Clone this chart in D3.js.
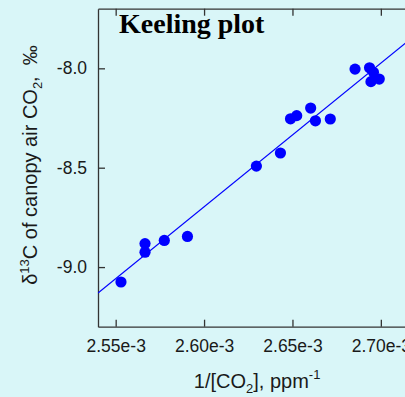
<!DOCTYPE html>
<html>
<head>
<meta charset="utf-8">
<script src="https://cdn.jsdelivr.net/npm/d3@7"></script>
<style>
  html, body { margin: 0; padding: 0; background: #d9f6f8; }
  svg { display: block; }
  text { font-family: Arial, "Liberation Sans", sans-serif; fill: #1a1a1a; }
</style>
</head>
<body>
<svg id="chart"></svg>
<script>
// 1/[CO2] (ppm^-1) and d13C (permil)
const invCO2 = [
  2.5530e-3, 2.5666e-3, 2.5666e-3, 2.5775e-3, 2.5906e-3,
  2.6296e-3, 2.6432e-3, 2.6489e-3, 2.6524e-3, 2.6603e-3,
  2.6630e-3, 2.6714e-3, 2.6854e-3, 2.6936e-3, 2.6958e-3,
  2.6944e-3, 2.6991e-3
];
const d13C = [
  -9.075, -8.925, -8.882, -8.866, -8.846,
  -8.492, -8.426, -8.254, -8.238, -8.200,
  -8.264, -8.255, -8.004, -7.997, -8.020,
  -8.067, -8.054
];

// fitted Keeling line: d13C = intercept + slope / [CO2]
const fitSlope = 7232;
const fitIntercept = -27.50;

const xTicks = [2.55e-3, 2.60e-3, 2.65e-3, 2.70e-3];
const yTicks = [-8.0, -8.5, -9.0];

const width = 405, height = 397;
const mLeft = 98, mTop = 8.7, plotW = 318.2, mBottom = 326.7;

const svg = d3.select('#chart')
  .attr('width', width)
  .attr('height', height);

svg.append('rect')
  .attr('width', width)
  .attr('height', height)
  .attr('fill', '#d9f6f8');

const x = d3.scaleLinear()
  .domain([2.54e-3, 2.72e-3])
  .range([mLeft, mLeft + plotW]);

const y = d3.scaleLinear()
  .domain([-9.3, -7.7])
  .range([mBottom, mTop]);

const tick = 7;
const axisColor = '#333';

function styleAxis(g) {
  g.selectAll('path.domain').attr('stroke', axisColor).attr('stroke-width', 1.3);
  g.selectAll('.tick line').attr('stroke', axisColor).attr('stroke-width', 1.3);
  g.selectAll('.tick text')
    .attr('font-size', 17.5)
    .attr('fill', '#1a1a1a');
}

// bottom
svg.append('g')
  .attr('transform', `translate(0,${mBottom})`)
  .call(d3.axisBottom(x).tickValues(xTicks)
    .tickSizeInner(-tick).tickSizeOuter(0).tickPadding(13)
    .tickFormat(d => (d * 1000).toFixed(2) + 'e-3'))
  .call(styleAxis);

// top (mirror ticks, no labels)
svg.append('g')
  .attr('transform', `translate(0,${mTop})`)
  .call(d3.axisTop(x).tickValues(xTicks)
    .tickSizeInner(-tick).tickSizeOuter(0).tickFormat(''))
  .call(styleAxis);

// left
svg.append('g')
  .attr('transform', `translate(${mLeft},0)`)
  .call(d3.axisLeft(y).tickValues(yTicks)
    .tickSizeInner(-tick).tickSizeOuter(0).tickPadding(11)
    .tickFormat(d => d.toFixed(1)))
  .call(styleAxis);

// right (mirror)
svg.append('g')
  .attr('transform', `translate(${mLeft + plotW},0)`)
  .call(d3.axisRight(y).tickValues(yTicks)
    .tickSizeInner(-tick).tickSizeOuter(0).tickFormat(''))
  .call(styleAxis);

// regression line, clipped to the plot box
svg.append('clipPath').attr('id', 'plotClip')
  .append('rect')
  .attr('x', mLeft).attr('y', mTop)
  .attr('width', plotW).attr('height', mBottom - mTop);

const fitX = x.domain();
svg.append('line')
  .attr('clip-path', 'url(#plotClip)')
  .attr('x1', x(fitX[0]))
  .attr('y1', y(fitIntercept + fitSlope * fitX[0]))
  .attr('x2', x(fitX[1]))
  .attr('y2', y(fitIntercept + fitSlope * fitX[1]))
  .attr('stroke', '#0000ff')
  .attr('stroke-width', 1.2);

// points
svg.append('g')
  .selectAll('circle')
  .data(invCO2.map((v, i) => ({ x: v, y: d13C[i] })))
  .join('circle')
    .attr('cx', d => x(d.x))
    .attr('cy', d => y(d.y))
    .attr('r', 5.6)
    .attr('fill', '#0000ff');

// title
svg.append('text')
  .attr('x', 119)
  .attr('y', 32.5)
  .style('font-family', '"Times New Roman", "Liberation Serif", serif')
  .style('font-weight', 'bold')
  .style('fill', '#000')
  .attr('font-size', 28)
  .text('Keeling plot');

// x axis title
const xt = svg.append('text')
  .attr('x', mLeft + plotW / 2)
  .attr('y', 388)
  .attr('text-anchor', 'middle')
  .attr('font-size', 20);
xt.append('tspan').text('1/[CO');
xt.append('tspan').attr('font-size', 13).attr('dy', 5).text('2');
xt.append('tspan').attr('dy', -5).text('], ppm');
xt.append('tspan').attr('font-size', 13).attr('dy', -9).text('-1');

// y axis title
const yt = svg.append('text')
  .attr('transform', `translate(36.5,165) rotate(-90)`)
  .attr('text-anchor', 'middle')
  .attr('font-size', 20)
  .style('white-space', 'pre');
yt.append('tspan').text('\u03b4');
yt.append('tspan').attr('font-size', 13).attr('dy', -8).text('13');
yt.append('tspan').attr('dy', 8).text('C of canopy air CO');
yt.append('tspan').attr('font-size', 13).attr('dy', 5).text('2');
yt.append('tspan').attr('dy', -5).text(',  \u2030');
</script>
</body>
</html>
